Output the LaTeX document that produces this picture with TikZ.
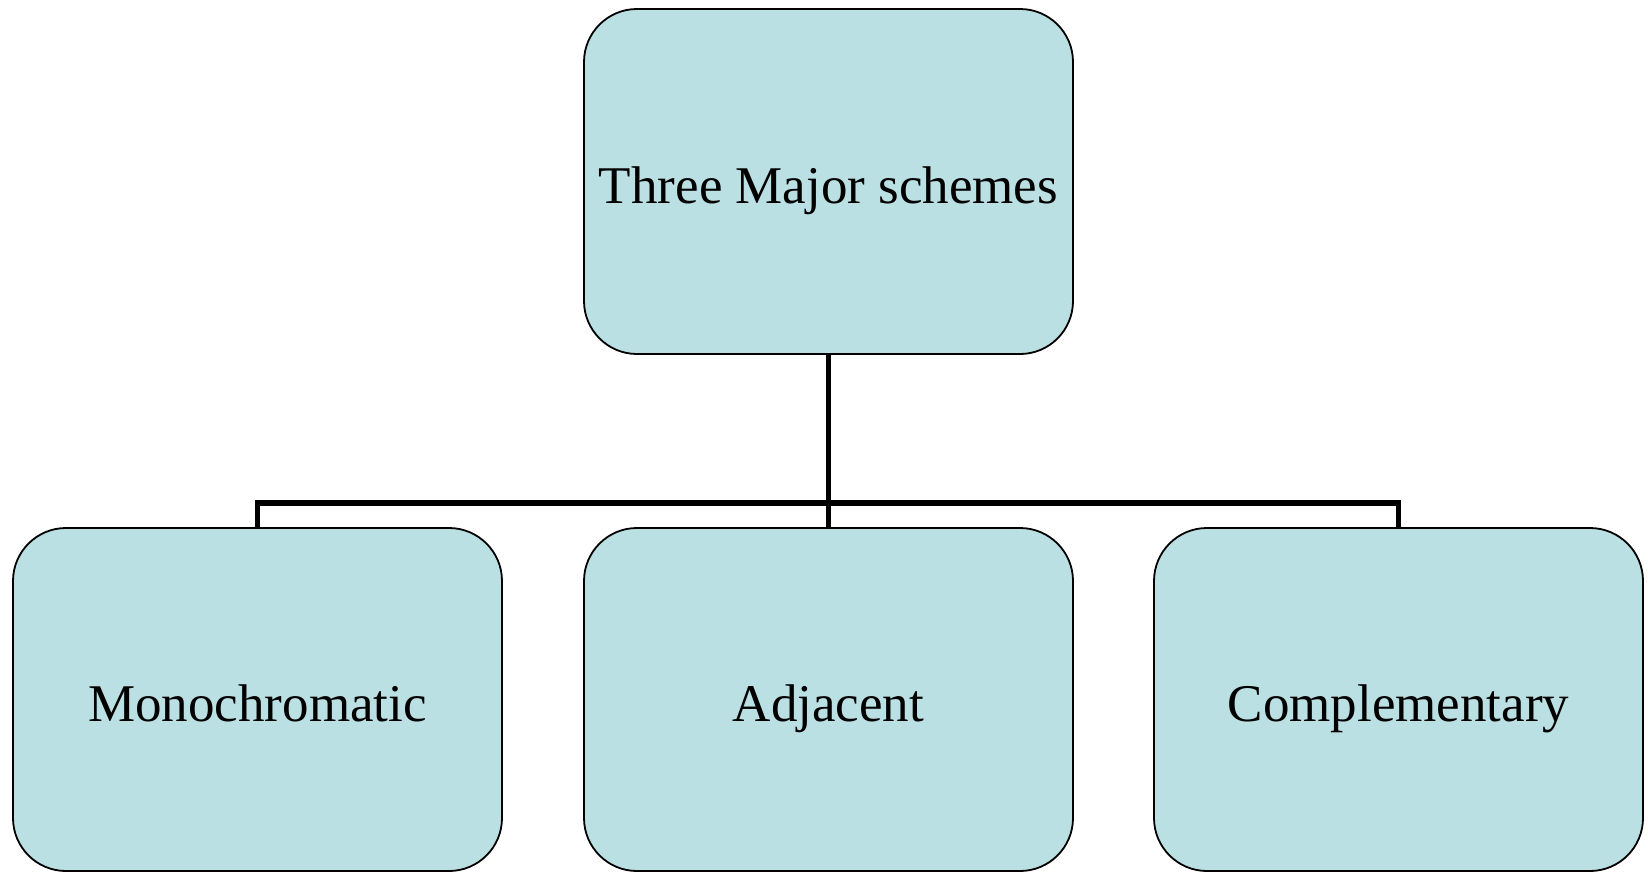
\documentclass[tikz,border=0pt]{standalone}
\usepackage{fontspec}
\setmainfont{Liberation Serif}
\definecolor{boxfill}{RGB}{186,224,227}
\begin{document}
\begin{tikzpicture}[x=1pt,y=-1pt,
  schemebox/.style={draw=black, line width=1.8pt, fill=boxfill, rounded corners=53pt,
    minimum width=489pt, minimum height=345pt, inner sep=0pt, align=center,
    text height=50pt, text depth=7pt,
    font=\fontsize{53}{63}\selectfont},
  link/.style={draw=black, line width=5.5pt}]
\useasboundingbox (0,0) rectangle (1648,873);
\node[schemebox] (top) at (828.5,181.5) {Three Major schemes};
\node[schemebox, minimum height=343pt] (mono) at (257.5,699.5) {Monochromatic};
\node[schemebox, minimum height=343pt] (adj) at (828.5,699.5) {Adjacent};
\node[schemebox, minimum height=343pt] (comp) at (1398.5,699.5) {Complementary};
\coordinate (bar) at (828.5,503);
\draw[link] (top.south) -- (adj.north);
\draw[link] (mono.north) -- (mono.north |- bar) -- (comp.north |- bar) -- (comp.north);
\end{tikzpicture}
\end{document}
